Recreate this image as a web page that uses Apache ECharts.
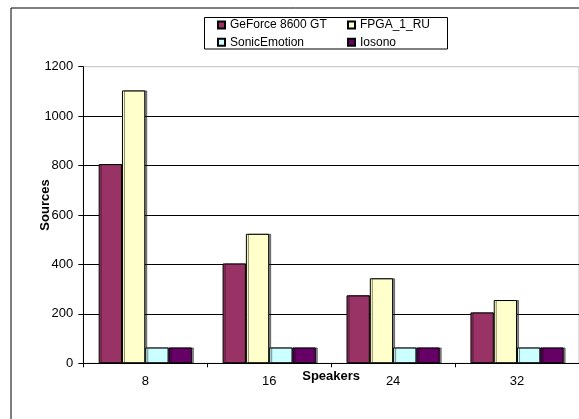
<!DOCTYPE html>
<html>
<head>
<meta charset="utf-8">
<script src="https://cdn.jsdelivr.net/npm/echarts@6/dist/echarts.min.js"></script>
<style>
  html, body { margin: 0; padding: 0; background: #fff; }
  #chart { width: 579px; height: 419px; }
</style>
</head>
<body>
<div id="chart"></div>
<script>
// Number of speakers on the x axis
const speakers = ['8', '16', '24', '32'];

// Renderable sources per system
const geforce8600 = [806, 404, 275, 206];
const fpga1RU = [1104, 524, 344, 256];
const sonicEmotion = [64, 64, 64, 64];
const iosono = [64, 64, 64, 64];

const seriesNames = ['GeForce 8600 GT', 'FPGA_1_RU', 'SonicEmotion', 'Iosono'];
const seriesColors = ['#993366', '#FFFFCC', '#CCFFFF', '#660066'];
const seriesData = [geforce8600, fpga1RU, sonicEmotion, iosono];

const FONT = '"Liberation Sans", Arial, sans-serif';

const chart = echarts.init(document.getElementById('chart'), null, { renderer: 'canvas' });

const series = seriesNames.map((name, i) => ({
  name: name,
  type: 'bar',
  data: seriesData[i],
  barWidth: 23.3,
  barGap: '0%',
  itemStyle: {
    color: seriesColors[i],
    borderColor: '#000',
    borderWidth: 1,
    shadowColor: 'rgba(0,0,0,0.45)',
    shadowOffsetX: 2,
    shadowOffsetY: 0,
    shadowBlur: 0
  }
}));

const legendText = { fontFamily: FONT, fontSize: 12, color: '#000', lineHeight: 14 };

chart.setOption({
  animation: false,
  backgroundColor: '#fff',
  textStyle: { fontFamily: FONT },
  graphic: [
    {
      // outer chart frame
      type: 'rect',
      shape: { x: 11, y: 8, width: 620, height: 460 },
      style: { fill: null, stroke: '#000', lineWidth: 1 },
      silent: true,
      z: -1
    },
    {
      // legend frame
      type: 'rect',
      shape: { x: 204.5, y: 17.5, width: 243, height: 31.5 },
      style: { fill: '#fff', stroke: '#000', lineWidth: 1 },
      silent: true,
      z: 0
    }
  ],
  legend: [
    {
      orient: 'vertical',
      left: 217,
      top: 18,
      itemWidth: 7,
      itemHeight: 7,
      itemGap: 3.3,
      icon: 'rect',
      padding: 0,
      textStyle: legendText,
      data: ['GeForce 8600 GT', 'SonicEmotion'],
      z: 5
    },
    {
      orient: 'vertical',
      left: 347,
      top: 18,
      itemWidth: 7,
      itemHeight: 7,
      itemGap: 3.3,
      icon: 'rect',
      padding: 0,
      textStyle: legendText,
      data: ['FPGA_1_RU', 'Iosono'],
      z: 5
    }
  ],
  grid: {
    left: 83.3,
    top: 66.7,
    width: 500,
    bottom: 55.7,
    show: true,
    borderColor: '#c0c0c0',
    borderWidth: 1,
    backgroundColor: 'transparent'
  },
  xAxis: {
    type: 'category',
    data: speakers,
    name: 'Speakers',
    nameLocation: 'middle',
    nameGap: 7,
    nameMoveOverlap: false,
    nameTextStyle: { fontFamily: FONT, fontSize: 13, fontWeight: 'bold', color: '#000', verticalAlign: 'top' },
    axisLine: { lineStyle: { color: '#000', width: 1 } },
    axisTick: { show: true, alignWithLabel: false, length: 4, lineStyle: { color: '#000' } },
    axisLabel: { fontFamily: FONT, fontSize: 13, color: '#000', margin: 12 },
    splitLine: { show: false }
  },
  yAxis: {
    type: 'value',
    min: 0,
    max: 1200,
    interval: 200,
    name: 'Sources',
    nameLocation: 'middle',
    nameGap: 31,
    nameMoveOverlap: false,
    nameTextStyle: { fontFamily: FONT, fontSize: 13, fontWeight: 'bold', color: '#000', padding: [0, 0, 0, 20] },
    axisLine: { show: true, lineStyle: { color: '#000', width: 1 } },
    axisTick: { show: true, length: 5, lineStyle: { color: '#000' } },
    axisLabel: { fontFamily: FONT, fontSize: 13, color: '#000', margin: 10, formatter: v => String(v) },
    splitLine: { show: true, showMaxLine: false, lineStyle: { color: '#000', width: 1 } }
  },
  series: series
});
</script>
</body>
</html>
